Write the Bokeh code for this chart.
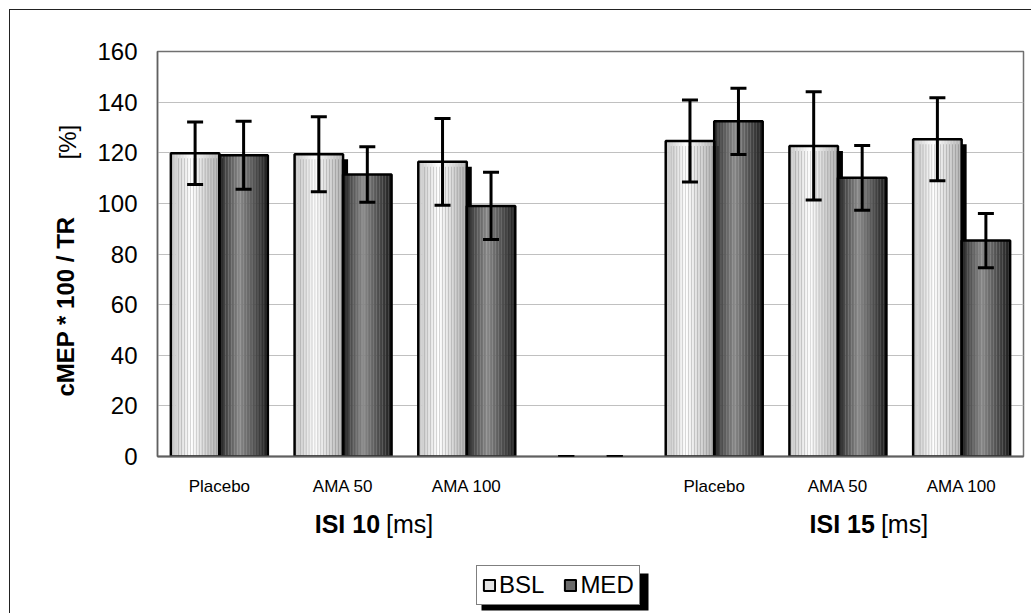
import numpy as np
from bokeh.plotting import figure
from bokeh.layouts import row, column
from bokeh.models import (ColumnDataSource, FixedTicker, Whisker, TeeHead, Label,
                          Legend, LegendItem, CDSView, BooleanFilter, BoxAnnotation)
from bokeh.transform import dodge
from bokeh.embed import file_html
from bokeh.resources import INLINE

# ---------------- data ----------------
categories = ["Placebo", "AMA 50", "AMA 100", "", "Placebo", "AMA 50", "AMA 100"]
groups = ["ISI 10", "ISI 15"]
group_unit = "[ms]"
series = ["BSL", "MED"]
bsl = [119.8, 119.4, 116.4, 0, 124.6, 122.7, 125.3]
bsl_err = [12.3, 14.8, 17.1, 0, 16.2, 21.4, 16.4]
med = [119.0, 111.4, 99.0, 0, 132.4, 110.1, 85.3]
med_err = [13.4, 11.0, 13.3, 0, 13.1, 12.8, 10.7]
y_ticks = [0, 20, 40, 60, 80, 100, 120, 140, 160]
y_title = "cMEP * 100 / TR"
y_unit = "[%]"

FONT = "Liberation Sans"
slots = np.arange(len(categories)) + 0.5
BW = 0.392          # bar width (category units)
OFF = BW / 2


def blank(width, height, **kw):
    f = figure(width=width, height=height, output_backend="svg", toolbar_location=None,
               x_axis_type=None, y_axis_type=None, min_border=0, **kw)
    f.outline_line_color = None
    f.grid.visible = False
    f.background_fill_color = "white"
    f.border_fill_color = "white"
    return f


# ---------------- main plot ----------------
p = figure(frame_width=866, frame_height=405, x_range=(0, 7), y_range=(0, 160),
           output_backend="svg", toolbar_location=None,
           min_border_left=67, min_border_top=41, min_border_right=8, min_border_bottom=44)
p.background_fill_color = "white"
p.border_fill_color = "white"
p.outline_line_color = "#707070"
p.outline_line_width = 1.5

p.xgrid.visible = False
p.ygrid.ticker = FixedTicker(ticks=y_ticks)
p.ygrid.grid_line_color = "#c0c0c0"
p.ygrid.grid_line_width = 1

p.yaxis.ticker = FixedTicker(ticks=y_ticks)
p.yaxis.major_tick_out = 0
p.yaxis.major_tick_in = 0
p.yaxis.minor_tick_out = 0
p.yaxis.minor_tick_in = 0
p.yaxis.major_label_standoff = 20
p.yaxis.major_label_text_font = FONT
p.yaxis.major_label_text_font_size = "24px"
p.yaxis.major_label_text_color = "black"
p.yaxis.axis_line_color = "#606060"
p.yaxis.axis_line_width = 1.5

p.xaxis.ticker = FixedTicker(ticks=list(slots))
p.xaxis.major_label_overrides = {float(s): c for s, c in zip(slots, categories)}
p.xaxis.major_tick_out = 0
p.xaxis.major_tick_in = 0
p.xaxis.minor_tick_out = 0
p.xaxis.minor_tick_in = 0
p.xaxis.major_label_standoff = 20
p.xaxis.major_label_text_font = FONT
p.xaxis.major_label_text_font_size = "17px"
p.xaxis.major_label_text_color = "black"
p.xaxis.axis_line_color = "#606060"
p.xaxis.axis_line_width = 2

src = ColumnDataSource(dict(
    x=slots, bsl=bsl, med=med,
    xb=slots - OFF, xm=slots + OFF,
    bsl_up=[v + e for v, e in zip(bsl, bsl_err)], bsl_lo=[v - e for v, e in zip(bsl, bsl_err)],
    med_up=[v + e for v, e in zip(med, med_err)], med_lo=[v - e for v, e in zip(med, med_err)],
))
view_b = CDSView(filter=BooleanFilter([v > 0 for v in bsl]))
view_m = CDSView(filter=BooleanFilter([v > 0 for v in med]))

# shadow of BSL bars (offset right/down by a few px)
dx = 5 / 123.7
dy = 5 / (405 / 160)
src_sh = ColumnDataSource(dict(x=slots - OFF + dx, top=[v - dy for v in bsl]))
p.vbar(x="x", top="top", bottom=0, width=BW, source=src_sh, view=view_b,
       fill_color="black", line_color=None)


def grad_bsl(t):
    if t < 0.42:
        v = 195 + (255 - 195) * (t / 0.42)
    else:
        v = 255 - (255 - 178) * ((t - 0.42) / 0.58)
    return "#%02x%02x%02x" % (int(v), int(v), int(v))


def grad_med(t):
    if t < 0.42:
        v = 38 + (138 - 38) * (t / 0.42)
    else:
        v = 138 - (138 - 28) * ((t - 0.42) / 0.58)
    return "#%02x%02x%02x" % (int(v), int(v), int(v))


N = 32
for k in range(N):
    t = (k + 0.5) / N
    o = -BW / 2 + (k + 0.5) * BW / N
    p.vbar(x=dodge("xb", o, range=p.x_range), top="bsl", bottom=0, width=BW / N * 1.15,
           source=src, view=view_b, fill_color=grad_bsl(t), line_color=None)
    p.vbar(x=dodge("xm", o, range=p.x_range), top="med", bottom=0, width=BW / N * 1.15,
           source=src, view=view_m, fill_color=grad_med(t), line_color=None)

# outlines on top
p.vbar(x="xb", top="bsl", bottom=0, width=BW, source=src, view=view_b,
       fill_color=None, line_color="black", line_width=2.5)
p.vbar(x="xm", top="med", bottom=0, width=BW, source=src, view=view_m,
       fill_color=None, line_color="black", line_width=2.5)

# error bars
for base, up, lo in (("xb", "bsl_up", "bsl_lo"), ("xm", "med_up", "med_lo")):
    w = Whisker(base=base, upper=up, lower=lo, source=src, dimension="height",
                line_color="black", line_width=3, level="annotation",
                upper_head=TeeHead(size=16, line_width=3, line_color="black"),
                lower_head=TeeHead(size=16, line_width=3, line_color="black"))
    p.add_layout(w)

# ---------------- y title strip ----------------
yt = blank(80, 490, x_range=(0, 80), y_range=(0, 490))
yt.add_layout(Label(x=55, y=60, x_units="screen", y_units="screen", text=y_title,
                    angle=np.pi / 2, text_font=FONT, text_font_size="24px",
                    text_font_style="bold", text_align="left", text_baseline="middle",
                    text_color="black"))
yt.add_layout(Label(x=57, y=297, x_units="screen", y_units="screen", text=y_unit,
                    angle=np.pi / 2, text_font=FONT, text_font_size="24px",
                    text_align="left", text_baseline="middle", text_color="black"))

# ---------------- bottom strip: group labels + legend ----------------
bt = figure(frame_width=866, frame_height=113, x_range=(0, 7), y_range=(0, 113),
            output_backend="svg", toolbar_location=None, x_axis_type=None, y_axis_type=None,
            min_border_left=147, min_border_right=8, min_border_top=0, min_border_bottom=0)
bt.outline_line_color = None
bt.grid.visible = False

for gi, g in enumerate(groups):
    cx = 1.5 + 4 * gi
    bt.add_layout(Label(x=cx, y=90, x_units="data", y_units="screen", text=g,
                        x_offset=37, text_font=FONT, text_font_size="25px",
                        text_font_style="bold", text_align="right", text_baseline="middle",
                        text_color="black"))
    bt.add_layout(Label(x=cx, y=90, x_units="data", y_units="screen", text=group_unit,
                        x_offset=43, text_font=FONT, text_font_size="25px",
                        text_align="left", text_baseline="middle", text_color="black"))

nan_src = ColumnDataSource(dict(x=[float("nan")], top=[float("nan")]))
lg_b = bt.vbar(x="x", top="top", width=0.1, source=nan_src,
               fill_color="#e4e4e4", line_color="black", line_width=2)
lg_m = bt.vbar(x="x", top="top", width=0.1, source=nan_src,
               fill_color="#6a6a6a", line_color="black", line_width=2)

# legend shadow
bt.add_layout(BoxAnnotation(left=324, right=491, bottom=3, top=40,
                            left_units="screen", right_units="screen",
                            bottom_units="screen", top_units="screen",
                            fill_color="black", fill_alpha=1, line_color=None))

legend = Legend(items=[LegendItem(label=s, renderers=[r]) for s, r in zip(series, [lg_b, lg_m])],
                location=(319, 8), orientation="horizontal",
                background_fill_color="white", background_fill_alpha=1,
                border_line_color="black", border_line_width=1,
                label_text_color="black", label_text_font=FONT, label_text_font_size="24px",
                glyph_width=14, glyph_height=14, padding=5, spacing=19, label_standoff=3,
                margin=0)
bt.add_layout(legend)

layout = column(row(yt, p, spacing=0), bt, spacing=0,
                styles={"margin-left": "9px", "margin-top": "9px",
                        "border-left": "1px solid #222", "border-top": "1px solid #222",
                        "background-color": "white"})

open("out.html", "w").write(file_html(layout, INLINE))
